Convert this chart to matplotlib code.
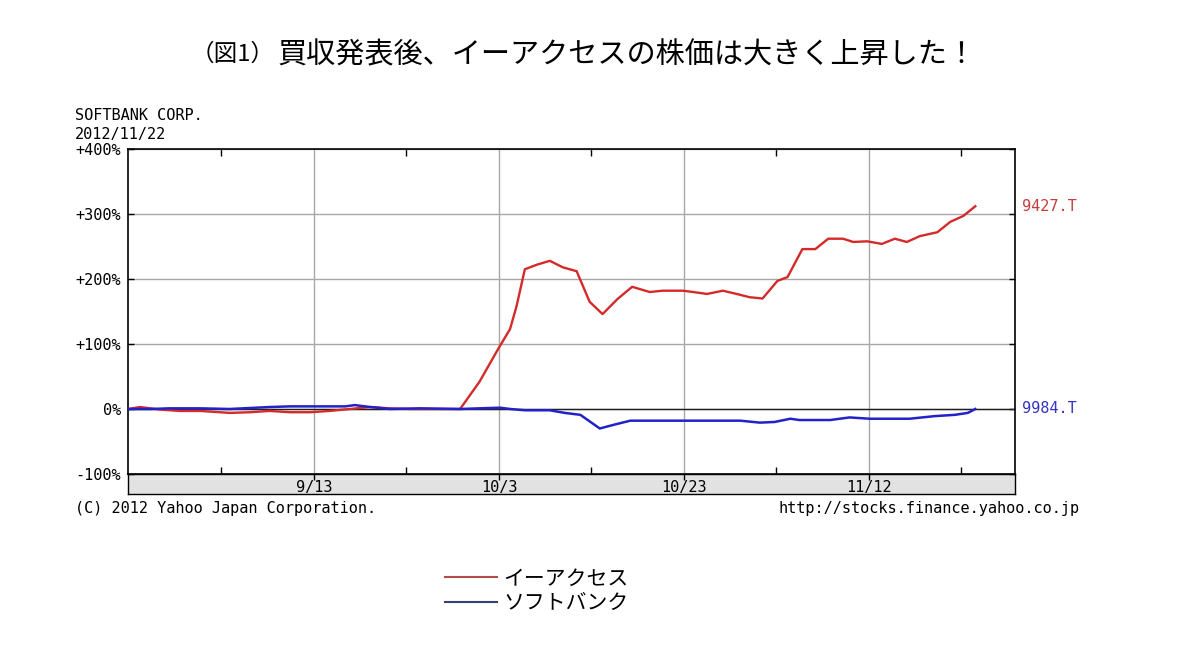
import matplotlib
matplotlib.use("Agg")
import matplotlib.pyplot as plt
from matplotlib.lines import Line2D

plt.rcParams['font.family'] = ['DejaVu Sans Mono']

# days counted from 9/13, percent change
eaccess_x = [-20.1, -18.8, -16.6, -14.5, -12.3, -9.1, -6.9, -4.8, -2.6, -0.4, 1.7, 3.9,
             6.1, 8.2, 10.4, 13.6, 15.8, 17.9, 19.9, 21.2, 21.9, 22.8, 24.1, 25.5,
             26.9, 28.4, 29.8, 31.2, 32.8, 34.4, 36.3, 37.7, 39.9, 41.0, 42.5, 44.2,
             45.7, 47.1, 48.5, 50.1, 51.2, 52.8, 54.2, 55.6, 57.2, 58.3, 59.8, 61.4,
             62.8, 64.1, 65.5, 67.4, 68.8, 70.2, 71.5]
eaccess_y = [0, 3, -1, -3, -3, -6, -5, -3, -5, -5, -3, 0,
             3, 1, 0, 0, 0, 42, 92, 123, 158, 215, 222, 228,
             218, 212, 165, 146, 169, 188, 180, 182, 182, 180, 177, 182,
             177, 172, 170, 197, 203, 246, 246, 262, 262, 257, 258, 254,
             262, 257, 266, 272, 288, 297, 312]

softbank_x = [-20.1, -17.7, -15.6, -12.3, -9.1, -4.8, -2.6, 0.6, 3.4, 4.4, 6.1, 8.2,
              11.5, 15.8, 17.9, 20.1, 21.2, 22.8, 25.5, 27.1, 28.8, 30.9, 32.5, 34.2,
              37.4, 41.7, 46.1, 48.2, 49.8, 51.5, 52.5, 55.8, 57.9, 60.1, 64.4, 67.1,
              69.3, 70.7, 71.5]
softbank_y = [0, 0, 1, 1, 0, 3, 4, 4, 4, 6, 3, 0,
              1, 0, 1, 2, 0, -2, -2, -6, -9, -30, -24, -18,
              -18, -18, -18, -21, -20, -15, -17, -17, -13, -15, -15, -11,
              -9, -6, 0]

major_days = [0, 20, 40, 60]
major_labels = ['9/13', '10/3', '10/23', '11/12']
minor_days = [-10, 10, 30, 50, 70]
y_ticks = [-100, 0, 100, 200, 300, 400]
y_labels = ['-100%', '0%', '+100%', '+200%', '+300%', '+400%']

red = '#d42a2a'
blue = '#2222c8'

fig = plt.figure(figsize=(12, 6.46), dpi=100)

# grey date band below the plot
band = fig.add_axes([0.1067, 0.2353, 0.7392, 0.031])
band.set_facecolor('#e2e2e2')
band.set_xticks([])
band.set_yticks([])
for s in band.spines.values():
    s.set_linewidth(1)

ax = fig.add_axes([0.1067, 0.2663, 0.7392, 0.503])
ax.set_xlim(-20.1, 75.8)
ax.set_ylim(-100, 400)

ax.set_xticks(major_days)
ax.set_xticklabels(major_labels, fontsize=11)
ax.set_xticks(minor_days, minor=True)
ax.tick_params(axis='x', which='major', direction='out', length=4, pad=0.5, width=1)
ax.tick_params(axis='x', which='minor', direction='in', length=5, top=True, width=1)
ax.set_yticks(y_ticks)
ax.set_yticklabels(y_labels, fontsize=11)
ax.tick_params(axis='y', direction='in', length=4, right=True, pad=5, width=1)

ax.grid(True, which='major', color='#a8a8a8', lw=1)
ax.axhline(0, color='#202020', lw=1, zorder=2)
for s in ax.spines.values():
    s.set_linewidth(1.2)

ax.plot(eaccess_x, eaccess_y, color=red, lw=1.7, zorder=3)
ax.plot(softbank_x, softbank_y, color=blue, lw=1.8, zorder=4)

ax.annotate('9427.T', xy=(1, eaccess_y[-1]), xycoords=('axes fraction', 'data'),
            xytext=(5, 0), textcoords='offset points', va='center', ha='left',
            color='#c83c3c', fontsize=11)
ax.annotate('9984.T', xy=(1, softbank_y[-1]), xycoords=('axes fraction', 'data'),
            xytext=(5, 0), textcoords='offset points', va='center', ha='left',
            color='#3434c0', fontsize=11)

fig.text(75 / 1200, 1 - 116 / 646, 'SOFTBANK CORP.', fontsize=11, va='center', ha='left')
fig.text(75 / 1200, 1 - 135 / 646, '2012/11/22', fontsize=11, va='center', ha='left')
fig.text(75 / 1200, 1 - 509 / 646, '(C) 2012 Yahoo Japan Corporation.', fontsize=11,
         va='center', ha='left')
fig.text(1080 / 1200, 1 - 509 / 646, 'http://stocks.finance.yahoo.co.jp', fontsize=11,
         va='center', ha='right')

# title
fig.text(275 / 1200, 1 - 54 / 646, '（図1）', fontsize=17, va='center', ha='right',
         family=['Noto Sans CJK JP', 'DejaVu Sans'])
fig.text(278 / 1200, 1 - 55 / 646, '買収発表後、イーアクセスの株価は大きく上昇した！',
         fontsize=21, va='center', ha='left',
         family=['Noto Sans CJK JP', 'DejaVu Sans'])

handles = [Line2D([], [], color='#b44c4c', lw=1.5), Line2D([], [], color='#34407a', lw=1.5)]
leg = fig.legend(handles, ['イーアクセス', 'ソフトバンク'], loc='upper left',
                 bbox_to_anchor=(426 / 1200, 1 - 549 / 646), frameon=False,
                 prop={'family': ['Noto Sans CJK JP', 'DejaVu Sans'], 'size': 15},
                 handlelength=2.5, handletextpad=0.3, labelspacing=0.1, borderpad=0.4)

fig.savefig('out.png', dpi=100, facecolor='white')
